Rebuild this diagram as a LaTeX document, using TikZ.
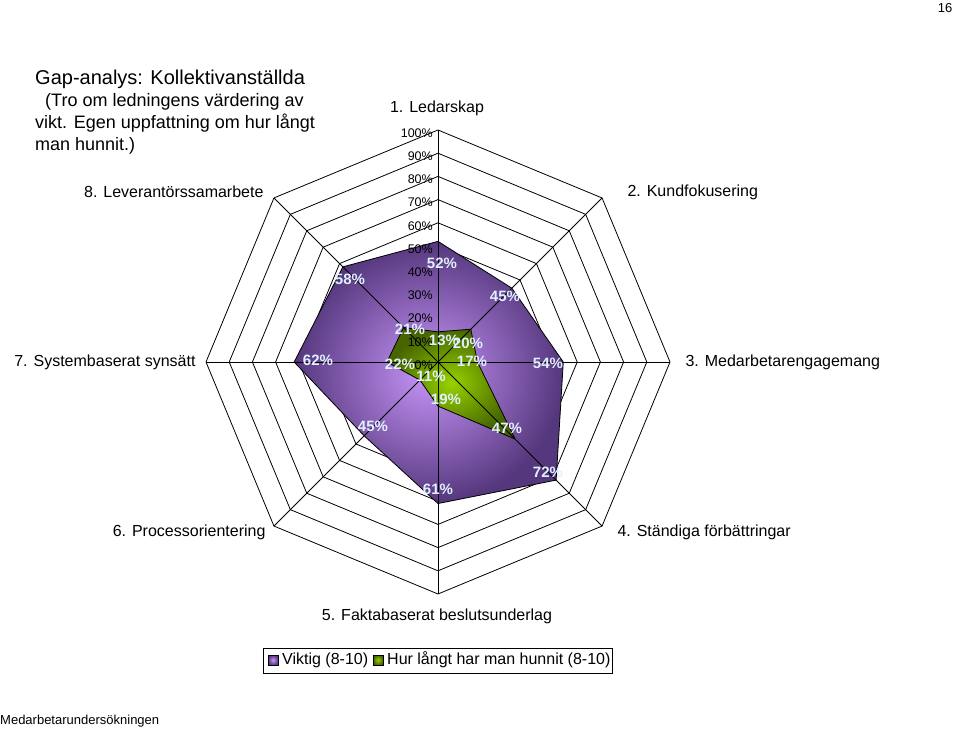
\documentclass[tikz,border=0pt]{standalone}
\usepackage{fontspec}
\setmainfont{Liberation Sans}
\usetikzlibrary{positioning,calc}
\definecolor{vikt}{RGB}{200,150,250}
\definecolor{viktdark}{RGB}{85,55,125}
\definecolor{hur}{RGB}{150,210,0}
\definecolor{hurdark}{RGB}{70,100,0}
\definecolor{vlabel}{RGB}{225,240,255}
\tikzset{
  catlabel/.style={font=\fontsize{16}{18}\selectfont},
  ringlabel/.style={font=\fontsize{12.5}{13}\selectfont,anchor=east,inner sep=1pt},
  vallabel/.style={font=\bfseries\fontsize{15}{16}\selectfont,text=vlabel,inner sep=0pt},
}
\begin{document}
\begin{tikzpicture}[x=1pt,y=-1pt]
\useasboundingbox (0,0) rectangle (959,731);
\coordinate (c) at (438,362);
\def\R{23.2}
%rings and spokes
\foreach \k in {1,...,10}
  \draw[line width=0.8pt] ($(c)+(-90:\k*\R)$) \foreach \i in {1,...,7}{ -- ($(c)+(-90+45*\i:\k*\R)$)} -- cycle;
%viktig
\draw[inner color=vikt,outer color=viktdark,line width=0.8pt]
  ($(c)+(-90:52*\R/10)$) -- ($(c)+(-45:45*\R/10)$) -- ($(c)+(0:54*\R/10)$)
  -- ($(c)+(45:72*\R/10)$) -- ($(c)+(90:61*\R/10)$) -- ($(c)+(135:45*\R/10)$)
  -- ($(c)+(180:62*\R/10)$) -- ($(c)+(225:58*\R/10)$) -- cycle;
%hur langt
\draw[inner color=hur,outer color=hurdark,line width=0.8pt]
  ($(c)+(-90:13*\R/10)$) -- ($(c)+(-45:20*\R/10)$) -- ($(c)+(0:17*\R/10)$)
  -- ($(c)+(45:47*\R/10)$) -- ($(c)+(90:19*\R/10)$) -- ($(c)+(135:11*\R/10)$)
  -- ($(c)+(180:22*\R/10)$) -- ($(c)+(225:21*\R/10)$) -- cycle;
\foreach \i in {0,...,7}
  \draw[line width=0.8pt] (c) -- ($(c)+(-90+45*\i:10*\R)$);
%ring labels
\foreach \k in {0,...,10}
  {\pgfmathtruncatemacro\p{10*\k}
   \node[ringlabel] (r\k) at ($(c)+(-4,-\k*\R+3)$) {\p\%};}
%value labels
\node[vallabel] (v1) at (442,263) {52\%};
\node[vallabel] (v2) at (505,296) {45\%};
\node[vallabel] (v3) at (548,363) {54\%};
\node[vallabel] (v4) at (548,472) {72\%};
\node[vallabel] (v5) at (438,489) {61\%};
\node[vallabel] (v6) at (373,426) {45\%};
\node[vallabel] (v7) at (318,360) {62\%};
\node[vallabel] (v8) at (350,279) {58\%};
\node[vallabel] (h1) at (444,340) {13\%};
\node[vallabel] (h2) at (468,343) {20\%};
\node[vallabel] (h3) at (472,361) {17\%};
\node[vallabel] (h4) at (507,428) {47\%};
\node[vallabel] (h5) at (446,399) {19\%};
\node[vallabel] (h6) at (431,376) {11\%};
\node[vallabel] (h7) at (400,364) {22\%};
\node[vallabel] (h8) at (410,329) {21\%};
%categories
\node[catlabel] (k1) at (437,108) {1. Ledarskap};
\node[catlabel,anchor=west] (k2) at (624,192) {2. Kundfokusering};
\node[catlabel,anchor=west] (k3) at (682,362) {3. Medarbetarengagemang};
\node[catlabel,anchor=west] (k4) at (614,532) {4. Ständiga förbättringar};
\node[catlabel] (k5) at (437,616) {5. Faktabaserat beslutsunderlag};
\node[catlabel,anchor=east] (k6) at (269,532) {6. Processorientering};
\node[catlabel,anchor=east] (k7) at (199,362) {7. Systembaserat synsätt};
\node[catlabel,anchor=east] (k8) at (267,192) {8. Leverantörssamarbete};
%title
\node[anchor=north west,align=left,inner sep=0pt,font=\fontsize{20}{23}\selectfont] (titel) at (35,70)
  {Gap-analys: Kollektivanställda\\[-1pt]
   {\fontsize{18}{23}\selectfont\ \ (Tro om ledningens värdering av}\\[-1pt]
   {\fontsize{18}{23}\selectfont vikt. Egen uppfattning om hur långt}\\[-1pt]
   {\fontsize{18}{23}\selectfont man hunnit.)}};
%legend
\draw[line width=0.8pt] (263,648) rectangle (612,673);
\draw[inner color=vikt,outer color=viktdark] (268,655) rectangle (278,665);
\node[catlabel,anchor=west,inner sep=0pt] (l1) at (282,660) {Viktig (8-10)};
\draw[inner color=hur,outer color=hurdark] (373,655) rectangle (383,665);
\node[catlabel,anchor=west,inner sep=0pt] (l2) at (387,660) {Hur långt har man hunnit (8-10)};
\node[font=\fontsize{13}{14}\selectfont] (sida) at (945,8) {16};
\node[anchor=west,inner sep=0pt,font=\fontsize{13}{14}\selectfont] (fot) at (0,721) {Medarbetarundersökningen};
\end{tikzpicture}
\end{document}
